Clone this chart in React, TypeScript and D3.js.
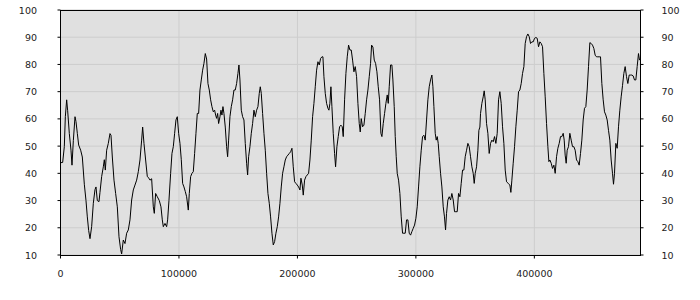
import React from "react";
import * as d3 from "d3";

const XS = [
  0, 1830, 3230, 4080, 5200, 6050, 7450, 8860, 9700, 10830,
  12240, 13080, 14200, 15330, 17020, 18420, 20110, 21520, 22640, 23770,
  24900, 26300, 27710, 29110, 29960, 31080, 32490, 33330, 34740, 36150,
  36990, 37830, 38960, 40360, 41770, 42620, 43740, 45150, 46560, 47960,
  49370, 50780, 51620, 53020, 54430, 55840, 57240, 58650, 60060, 61460,
  62870, 64280, 65680, 67090, 68500, 69340, 70470, 71870, 73280, 74690,
  75530, 76940, 78340, 79180, 80310, 81720, 83400, 84810, 85940, 86780,
  88190, 89590, 90440, 91560, 92970, 94090, 95220, 96350, 97470, 98590,
  99720, 100850, 101970, 103100, 104220, 105350, 106470, 107880, 108720, 109850,
  110970, 112100, 113220, 114350, 115470, 116600, 117720, 118850, 119980, 121100,
  122220, 123350, 124480, 125600, 126730, 127850, 128980, 130100, 130950, 131790,
  132640, 133480, 134610, 135450, 136290, 137130, 137980, 139100, 140230, 141070,
  141920, 143040, 144170, 145290, 146420, 147540, 148670, 149790, 150640, 151480,
  152610, 153730, 154860, 155980, 157110, 157950, 158800, 159920, 161050, 162170,
  163300, 164420, 165550, 166670, 167800, 168640, 169480, 170610, 171740, 172860,
  173990, 175110, 176240, 177360, 178490, 179610, 180740, 181860, 182990, 184110,
  185240, 186360, 187490, 188610, 189740, 190860, 191990, 193110, 194240, 195370,
  196490, 197620, 198740, 199870, 200990, 202120, 202960, 204090, 204930, 206050,
  207180, 208300, 209430, 210560, 211680, 212810, 213930, 215060, 216180, 217310,
  218430, 219560, 220680, 221530, 222370, 223490, 224620, 225750, 226590, 227430,
  228270, 229120, 230240, 231370, 232210, 233340, 234460, 235590, 236710, 237840,
  238680, 239810, 240930, 242060, 243180, 244310, 245430, 246560, 247690, 248810,
  249940, 251060, 252190, 253030, 253870, 255000, 256130, 257250, 258380, 259500,
  260630, 261750, 262600, 263720, 264850, 265970, 267100, 268220, 269350, 270470,
  271320, 272440, 273570, 274690, 275820, 276660, 277500, 278630, 279750, 280600,
  281720, 282570, 283410, 284250, 285380, 286500, 287630, 288750, 289880, 291000,
  292130, 293250, 294380, 295510, 296630, 297760, 298880, 300010, 301130, 302260,
  303380, 304510, 305630, 306760, 307880, 309010, 310130, 311260, 312390, 313510,
  314360, 315200, 316330, 317170, 318010, 318860, 319700, 320830, 321950, 323080,
  324140, 325040, 325880, 327010, 328130, 329260, 330380, 331510, 332640, 333760,
  334890, 336010, 337140, 338260, 339390, 340510, 341640, 342770, 343890, 345020,
  346140, 347270, 348390, 349240, 350080, 351210, 352330, 353180, 354020, 354580,
  355700, 356830, 357670, 358520, 359640, 360770, 361890, 363020, 364140, 365270,
  366400, 367520, 368650, 369770, 370900, 372020, 373150, 374270, 375400, 376530,
  377930, 379340, 380180, 381030, 382150, 383280, 384400, 385530, 386650, 387780,
  388910, 390030, 391160, 392280, 393410, 394530, 395660, 396780, 397910, 399030,
  400160, 401290, 402410, 403540, 404660, 405790, 406910, 408040, 409160, 410290,
  411410, 412260, 413100, 414230, 415350, 416480, 417600, 418730, 419850, 420980,
  422100, 423230, 424360, 425200, 426020, 426870, 427710, 428840, 429960, 431090,
  432210, 433340, 434460, 435590, 436720, 437840, 438970, 440090, 441220, 442340,
  443470, 444590, 445720, 446850, 447970, 449100, 450220, 451350, 452470, 453600,
  454720, 455850, 456970, 458100, 459230, 460350, 461480, 462600, 463730, 464850,
  465980, 466820, 467670, 468790, 469920, 471040, 472170, 473290, 474420, 475540,
  476670, 477800, 478920, 480050, 481170, 482300, 483420, 484550, 485670, 486800,
  487920, 488770, 489610,
];

const VALUES = [
  43.9, 44, 49.8, 60.8, 67, 63, 54.6, 48.5, 43, 52,
  60.8, 59, 54.7, 50.4, 48.5, 46, 36, 30, 24, 19,
  16, 20.4, 29, 34, 35, 30, 29.6, 33, 38.8, 42.4,
  45, 41.2, 48.5, 51, 54.6, 54, 46, 37.5, 32.6, 27.7,
  16.7, 12, 10.4, 15.5, 14.2, 18, 19.2, 22.9, 30.2, 33.9,
  35.7, 37.5, 40.6, 44.9, 52.2, 57, 51, 44.9, 38.8, 38.2,
  37.5, 38, 27.7, 25.3, 32.6, 31.4, 30, 27.7, 22.9, 20.4,
  21.6, 20.4, 22.9, 30, 40, 47.3, 49.8, 54.7, 59.6, 60.8,
  54.7, 51, 45, 36.3, 35, 33.3, 31.4, 26.5, 32.6, 38.8,
  40, 40.6, 47.3, 54.7, 62, 62, 70.6, 74.3, 77.9, 80.4,
  84, 82, 73, 70.6, 67, 64.5, 62.6, 63.2, 61.4, 60.2,
  62, 58.3, 60.8, 63.2, 61.4, 64.5, 62, 57, 49.8, 46.1,
  52.2, 60.8, 64.5, 67, 70.6, 70.6, 73, 76.7, 79.8, 74.3,
  63.2, 60.8, 59.6, 51, 43.7, 39.4, 46.1, 49.8, 54.7, 58.3,
  63.2, 60.8, 63.2, 64.5, 69.4, 71.8, 69.4, 62, 54.7, 48.5,
  40, 32.6, 29, 24, 18, 13.7, 14.9, 18, 20.4, 24,
  29, 35, 40, 42.4, 44.9, 46.1, 46.7, 47.3, 47.9, 49.2,
  42.4, 36.9, 36.3, 35.7, 35, 33.9, 38.2, 35.7, 32, 37.5,
  38.8, 39.4, 40, 44.9, 52.2, 60.8, 65.7, 71.8, 77.9, 81,
  79.8, 82.2, 82.8, 82.8, 75.5, 69.4, 65.7, 63.9, 63.2, 65.7,
  71.8, 64.5, 54.7, 47.3, 42.4, 49.8, 53.5, 57.1, 57.7, 57.1,
  53.5, 67, 76.7, 82.8, 87.1, 85.3, 85.3, 81.6, 77.3, 79.2,
  75.5, 65.7, 58.3, 55.2, 60.1, 57.1, 57.7, 62, 67, 70.6,
  75.5, 80.4, 87.1, 86.4, 81.6, 80.4, 77.3, 71.8, 67, 54.7,
  53.5, 58.3, 62, 65.7, 68.8, 65.7, 71.8, 79.8, 79.8, 74.3,
  64.5, 53.5, 46.1, 40, 37.5, 32.6, 24, 18, 18, 18,
  22.9, 22.9, 18, 17.3, 18.6, 19.8, 21, 23.5, 27.7, 35,
  42.4, 48.5, 53.5, 54, 52.2, 59.6, 67, 71.8, 74.3, 76.1,
  71.8, 64.5, 54.7, 52.2, 53.5, 51, 46.1, 40, 35, 27.7,
  24, 19.2, 25.3, 30.2, 31.4, 30.2, 32.6, 30.2, 25.9, 25.9,
  25.9, 32.6, 31.4, 36.3, 41.2, 41.2, 46.1, 48.5, 51, 49.8,
  46.1, 42.4, 40, 36.3, 40, 42.4, 48.5, 55.8, 57, 62,
  65.7, 68.1, 70.3, 67, 58.3, 54.7, 47.3, 51, 52.2, 51.6,
  53.5, 51, 54.7, 67, 70, 65.7, 57.1, 51, 41.2, 36.9,
  36.3, 35.7, 33, 37.5, 43.7, 49.8, 57.1, 63.2, 70, 70.6,
  73, 76.7, 79.2, 87.7, 90.2, 91.2, 90.2, 87.7, 88.3, 88.3,
  89.6, 89.9, 89.6, 86.5, 88.3, 87.7, 86.5, 76.7, 68.1, 58.3,
  49.8, 44.3, 44.9, 43.7, 41.8, 43, 40, 46.1, 49.2, 51,
  53.5, 53.5, 54.7, 52.2, 46.7, 43.7, 48.5, 49.8, 54.7, 52.2,
  49.8, 49.8, 48.5, 44.9, 44.3, 43, 47.3, 52.2, 59.6, 63.9,
  64.5, 70.6, 79.2, 88, 87.7, 87.1, 85.9, 83.4, 82.8, 82.8,
  82.8, 82.8, 73, 67, 62.6, 61.4, 59.6, 55.8, 52.2, 44.9,
  40, 36, 40, 51, 49.2, 57.1, 63.2, 68.1, 72.2, 76.7,
  79.2, 75.5, 73, 76.1, 76.1, 76.1, 75.8, 74.3, 74.3, 79.2,
  84, 81.6, 82.2,
];

const X_TICKS = [0, 100000, 200000, 300000, 400000];
const Y_TICKS = [10, 20, 30, 40, 50, 60, 70, 80, 90, 100];

const W = 700;
const H = 300;
const LEFT = 60.5;
const RIGHT = 640.5;
const TOP = 10;
const BOTTOM = 255;
const FONT = "'DejaVu Sans', Verdana, sans-serif";

export default function App() {
  const data = XS.map((x, i) => ({ x, v: VALUES[i] }));
  const x = d3.scaleLinear().domain([0, d3.max(XS) as number]).range([LEFT, RIGHT]);
  const y = d3.scaleLinear().domain([10, 100]).range([BOTTOM, TOP]);
  const line = d3
    .line<{ x: number; v: number }>()
    .x((d) => x(d.x))
    .y((d) => y(d.v));

  return (
    <svg
      width={W}
      height={H}
      style={{ position: "absolute", left: 0, top: 0, background: "#fff" }}
      fontFamily={FONT}
      fontSize={9.5}
    >
      <rect x={LEFT} y={TOP + 0.5} width={RIGHT - LEFT} height={BOTTOM - TOP} fill="#e0e0e0" />
      {Y_TICKS.map((t) => (
        <line key={"gy" + t} x1={LEFT} x2={RIGHT} y1={y(t)} y2={y(t)} stroke="#cdcdcd" strokeWidth={1} />
      ))}
      {X_TICKS.map((t) => (
        <line key={"gx" + t} x1={x(t)} x2={x(t)} y1={TOP} y2={BOTTOM} stroke="#cdcdcd" strokeWidth={1} />
      ))}
      <path d={line(data) || ""} fill="none" stroke="#000" strokeWidth={1} />
      <rect x={LEFT} y={TOP + 0.5} width={RIGHT - LEFT} height={BOTTOM - TOP} fill="none" stroke="#000" strokeWidth={1} />
      {Y_TICKS.map((t) => (
        <g key={"ty" + t}>
          <line x1={LEFT - 3} x2={LEFT} y1={y(t)} y2={y(t)} stroke="#000" />
          <line x1={RIGHT} x2={RIGHT + 3} y1={y(t)} y2={y(t)} stroke="#000" />
          <text x={37} y={y(t) + 3.5} textAnchor="end" fill="#222">
            {t}
          </text>
          <text x={661.5} y={y(t) + 3.5} textAnchor="start" fill="#222">
            {t}
          </text>
        </g>
      ))}
      {X_TICKS.map((t) => (
        <g key={"tx" + t}>
          <line x1={x(t)} x2={x(t)} y1={BOTTOM + 0.5} y2={BOTTOM + 3.5} stroke="#000" />
          <text x={x(t)} y={277} textAnchor="middle" fill="#222">
            {t}
          </text>
        </g>
      ))}
    </svg>
  );
}
